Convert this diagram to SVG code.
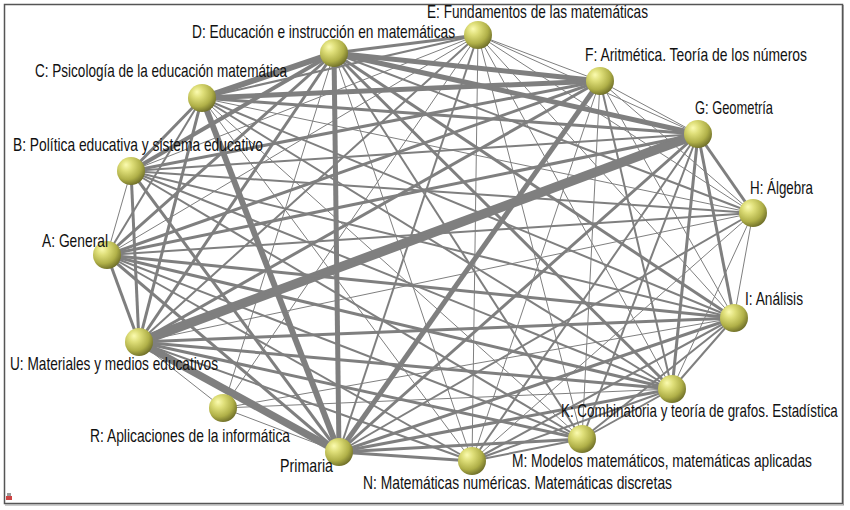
<svg xmlns="http://www.w3.org/2000/svg" width="850" height="510" viewBox="0 0 850 510">
<style>
.e{stroke:#7f7f7f;stroke-linecap:butt;fill:none}
.w1{stroke-width:1}
.w2{stroke-width:2}
.w3{stroke-width:3}
.w4{stroke-width:4}
.w5{stroke-width:5}
.w6{stroke-width:6}
.w7{stroke-width:7.5}
.w9{stroke-width:9.5}
.n{fill:url(#ball)}
.t{font-family:"Liberation Sans",Arial,sans-serif;font-size:18px;fill:#111}
</style>
<defs>
<radialGradient id="ball" cx="0.38" cy="0.33" r="0.7" fx="0.32" fy="0.28">
<stop offset="0" stop-color="#fbfbb0"/>
<stop offset="0.3" stop-color="#dede78"/>
<stop offset="0.7" stop-color="#b0b048"/>
<stop offset="1" stop-color="#6e6e28"/>
</radialGradient>
</defs>
<rect x="0" y="0" width="850" height="510" fill="#fff"/>
<rect x="4.5" y="4.5" width="838" height="499" fill="none" stroke="#555" stroke-width="1.5"/>
<line x1="843.5" y1="5" x2="843.5" y2="505" stroke="#999" stroke-width="1"/>
<line x1="5" y1="505" x2="844" y2="505" stroke="#999" stroke-width="1"/>
<g id="logo"><rect x="6" y="496" width="6" height="4" fill="#c44"/><rect x="7" y="493" width="4" height="3" fill="#999"/></g>
<g id="edges">
<line class="e w6" x1="202" y1="98" x2="334" y2="53"/>
<line class="e w2" x1="202" y1="98" x2="478" y2="35"/>
<line class="e w5" x1="202" y1="98" x2="600" y2="81"/>
<line class="e w3" x1="202" y1="98" x2="698" y2="134"/>
<line class="e w1" x1="202" y1="98" x2="753" y2="213"/>
<line class="e w2" x1="202" y1="98" x2="734" y2="318"/>
<line class="e w2" x1="202" y1="98" x2="672" y2="389"/>
<line class="e w1" x1="202" y1="98" x2="582" y2="439"/>
<line class="e w1" x1="202" y1="98" x2="472" y2="461"/>
<line class="e w6" x1="202" y1="98" x2="339" y2="452"/>
<line class="e w3" x1="202" y1="98" x2="139" y2="342"/>
<line class="e w2" x1="202" y1="98" x2="107" y2="255"/>
<line class="e w3" x1="202" y1="98" x2="131" y2="171"/>
<line class="e w3" x1="334" y1="53" x2="478" y2="35"/>
<line class="e w5" x1="334" y1="53" x2="600" y2="81"/>
<line class="e w5" x1="334" y1="53" x2="698" y2="134"/>
<line class="e w2" x1="334" y1="53" x2="753" y2="213"/>
<line class="e w3" x1="334" y1="53" x2="734" y2="318"/>
<line class="e w3" x1="334" y1="53" x2="672" y2="389"/>
<line class="e w2" x1="334" y1="53" x2="582" y2="439"/>
<line class="e w1" x1="334" y1="53" x2="472" y2="461"/>
<line class="e w5" x1="334" y1="53" x2="339" y2="452"/>
<line class="e w3" x1="334" y1="53" x2="139" y2="342"/>
<line class="e w3" x1="334" y1="53" x2="107" y2="255"/>
<line class="e w4" x1="334" y1="53" x2="131" y2="171"/>
<line class="e w1" x1="334" y1="53" x2="223" y2="408"/>
<line class="e w1" x1="478" y1="35" x2="600" y2="81"/>
<line class="e w1" x1="478" y1="35" x2="698" y2="134"/>
<line class="e w1" x1="478" y1="35" x2="753" y2="213"/>
<line class="e w1" x1="478" y1="35" x2="734" y2="318"/>
<line class="e w1" x1="478" y1="35" x2="672" y2="389"/>
<line class="e w1" x1="478" y1="35" x2="582" y2="439"/>
<line class="e w1" x1="478" y1="35" x2="472" y2="461"/>
<line class="e w2" x1="478" y1="35" x2="339" y2="452"/>
<line class="e w2" x1="478" y1="35" x2="139" y2="342"/>
<line class="e w1" x1="478" y1="35" x2="107" y2="255"/>
<line class="e w1" x1="478" y1="35" x2="131" y2="171"/>
<line class="e w1" x1="478" y1="35" x2="223" y2="408"/>
<line class="e w1" x1="600" y1="81" x2="698" y2="134"/>
<line class="e w1" x1="600" y1="81" x2="753" y2="213"/>
<line class="e w1" x1="600" y1="81" x2="734" y2="318"/>
<line class="e w2" x1="600" y1="81" x2="672" y2="389"/>
<line class="e w1" x1="600" y1="81" x2="582" y2="439"/>
<line class="e w1" x1="600" y1="81" x2="472" y2="461"/>
<line class="e w5" x1="600" y1="81" x2="339" y2="452"/>
<line class="e w3" x1="600" y1="81" x2="139" y2="342"/>
<line class="e w3" x1="600" y1="81" x2="107" y2="255"/>
<line class="e w3" x1="600" y1="81" x2="131" y2="171"/>
<line class="e w3" x1="698" y1="134" x2="753" y2="213"/>
<line class="e w3" x1="698" y1="134" x2="734" y2="318"/>
<line class="e w3" x1="698" y1="134" x2="672" y2="389"/>
<line class="e w2" x1="698" y1="134" x2="582" y2="439"/>
<line class="e w2" x1="698" y1="134" x2="472" y2="461"/>
<line class="e w3" x1="698" y1="134" x2="339" y2="452"/>
<line class="e w9" x1="698" y1="134" x2="139" y2="342"/>
<line class="e w3" x1="698" y1="134" x2="107" y2="255"/>
<line class="e w2" x1="698" y1="134" x2="131" y2="171"/>
<line class="e w1" x1="753" y1="213" x2="734" y2="318"/>
<line class="e w1" x1="753" y1="213" x2="672" y2="389"/>
<line class="e w2" x1="753" y1="213" x2="107" y2="255"/>
<line class="e w2" x1="753" y1="213" x2="131" y2="171"/>
<line class="e w1" x1="753" y1="213" x2="139" y2="342"/>
<line class="e w2" x1="753" y1="213" x2="339" y2="452"/>
<line class="e w1" x1="753" y1="213" x2="472" y2="461"/>
<line class="e w2" x1="734" y1="318" x2="672" y2="389"/>
<line class="e w2" x1="734" y1="318" x2="582" y2="439"/>
<line class="e w2" x1="734" y1="318" x2="472" y2="461"/>
<line class="e w3" x1="734" y1="318" x2="339" y2="452"/>
<line class="e w3" x1="734" y1="318" x2="139" y2="342"/>
<line class="e w3" x1="734" y1="318" x2="107" y2="255"/>
<line class="e w2" x1="734" y1="318" x2="131" y2="171"/>
<line class="e w1" x1="734" y1="318" x2="223" y2="408"/>
<line class="e w2" x1="672" y1="389" x2="582" y2="439"/>
<line class="e w2" x1="672" y1="389" x2="472" y2="461"/>
<line class="e w3" x1="672" y1="389" x2="339" y2="452"/>
<line class="e w3" x1="672" y1="389" x2="139" y2="342"/>
<line class="e w3" x1="672" y1="389" x2="107" y2="255"/>
<line class="e w2" x1="672" y1="389" x2="131" y2="171"/>
<line class="e w1" x1="672" y1="389" x2="223" y2="408"/>
<line class="e w2" x1="582" y1="439" x2="472" y2="461"/>
<line class="e w3" x1="582" y1="439" x2="339" y2="452"/>
<line class="e w3" x1="582" y1="439" x2="139" y2="342"/>
<line class="e w2" x1="582" y1="439" x2="107" y2="255"/>
<line class="e w2" x1="582" y1="439" x2="131" y2="171"/>
<line class="e w3" x1="472" y1="461" x2="339" y2="452"/>
<line class="e w2" x1="472" y1="461" x2="139" y2="342"/>
<line class="e w2" x1="472" y1="461" x2="107" y2="255"/>
<line class="e w1" x1="339" y1="452" x2="223" y2="408"/>
<line class="e w7" x1="339" y1="452" x2="139" y2="342"/>
<line class="e w3" x1="339" y1="452" x2="107" y2="255"/>
<line class="e w3" x1="339" y1="452" x2="131" y2="171"/>
<line class="e w1" x1="223" y1="408" x2="139" y2="342"/>
<line class="e w3" x1="139" y1="342" x2="107" y2="255"/>
<line class="e w3" x1="139" y1="342" x2="131" y2="171"/>
<line class="e w1" x1="107" y1="255" x2="131" y2="171"/>
</g>
<g id="node-D"><circle class="n" cx="334" cy="53" r="14"/><text class="t" transform="translate(192 37.5) scale(0.8 1)" textLength="328.75" lengthAdjust="spacingAndGlyphs">D: Educación e instrucción en matemáticas</text></g>
<g id="node-E"><circle class="n" cx="478" cy="35" r="14"/><text class="t" transform="translate(427 18) scale(0.8 1)" textLength="276.25" lengthAdjust="spacingAndGlyphs">E: Fundamentos de las matemáticas</text></g>
<g id="node-F"><circle class="n" cx="600" cy="81" r="14"/><text class="t" transform="translate(585 61) scale(0.8 1)" textLength="277.5" lengthAdjust="spacingAndGlyphs">F: Aritmética. Teoría de los números</text></g>
<g id="node-G"><circle class="n" cx="698" cy="134" r="14"/><text class="t" transform="translate(695 114) scale(0.8 1)" textLength="97.5" lengthAdjust="spacingAndGlyphs">G: Geometría</text></g>
<g id="node-H"><circle class="n" cx="753" cy="213" r="14"/><text class="t" transform="translate(750 194) scale(0.8 1)" textLength="78.75" lengthAdjust="spacingAndGlyphs">H: Álgebra</text></g>
<g id="node-I"><circle class="n" cx="734" cy="318" r="14"/><text class="t" transform="translate(745 305) scale(0.8 1)" textLength="72.5" lengthAdjust="spacingAndGlyphs">I: Análisis</text></g>
<g id="node-K"><circle class="n" cx="672" cy="389" r="14"/><text class="t" transform="translate(561 417) scale(0.8 1)" textLength="346" lengthAdjust="spacingAndGlyphs">K: Combinatoria y teoría de grafos. Estadística</text></g>
<g id="node-M"><circle class="n" cx="582" cy="439" r="14"/><text class="t" transform="translate(512 467) scale(0.8 1)" textLength="375" lengthAdjust="spacingAndGlyphs">M: Modelos matemáticos, matemáticas aplicadas</text></g>
<g id="node-N"><circle class="n" cx="472" cy="461" r="14"/><text class="t" transform="translate(363 489) scale(0.8 1)" textLength="386.25" lengthAdjust="spacingAndGlyphs">N: Matemáticas numéricas. Matemáticas discretas</text></g>
<g id="node-Primaria"><circle class="n" cx="339" cy="452" r="14"/><text class="t" transform="translate(280 472) scale(0.8 1)" textLength="66.25" lengthAdjust="spacingAndGlyphs">Primaria</text></g>
<g id="node-R"><circle class="n" cx="223" cy="408" r="14"/><text class="t" transform="translate(90 442) scale(0.8 1)" textLength="250" lengthAdjust="spacingAndGlyphs">R: Aplicaciones de la informática</text></g>
<g id="node-U"><circle class="n" cx="139" cy="342" r="14"/><text class="t" transform="translate(10 370) scale(0.8 1)" textLength="260" lengthAdjust="spacingAndGlyphs">U: Materiales y medios educativos</text></g>
<g id="node-A"><circle class="n" cx="107" cy="255" r="14"/><text class="t" transform="translate(42 247) scale(0.8 1)" textLength="82.5" lengthAdjust="spacingAndGlyphs">A: General</text></g>
<g id="node-B"><circle class="n" cx="131" cy="171" r="14"/><text class="t" transform="translate(13 151) scale(0.8 1)" textLength="312.5" lengthAdjust="spacingAndGlyphs">B: Política educativa y sistema educativo</text></g>
<g id="node-C"><circle class="n" cx="202" cy="98" r="14"/><text class="t" transform="translate(35 77) scale(0.8 1)" textLength="315" lengthAdjust="spacingAndGlyphs">C: Psicología de la educación matemática</text></g>
</svg>
